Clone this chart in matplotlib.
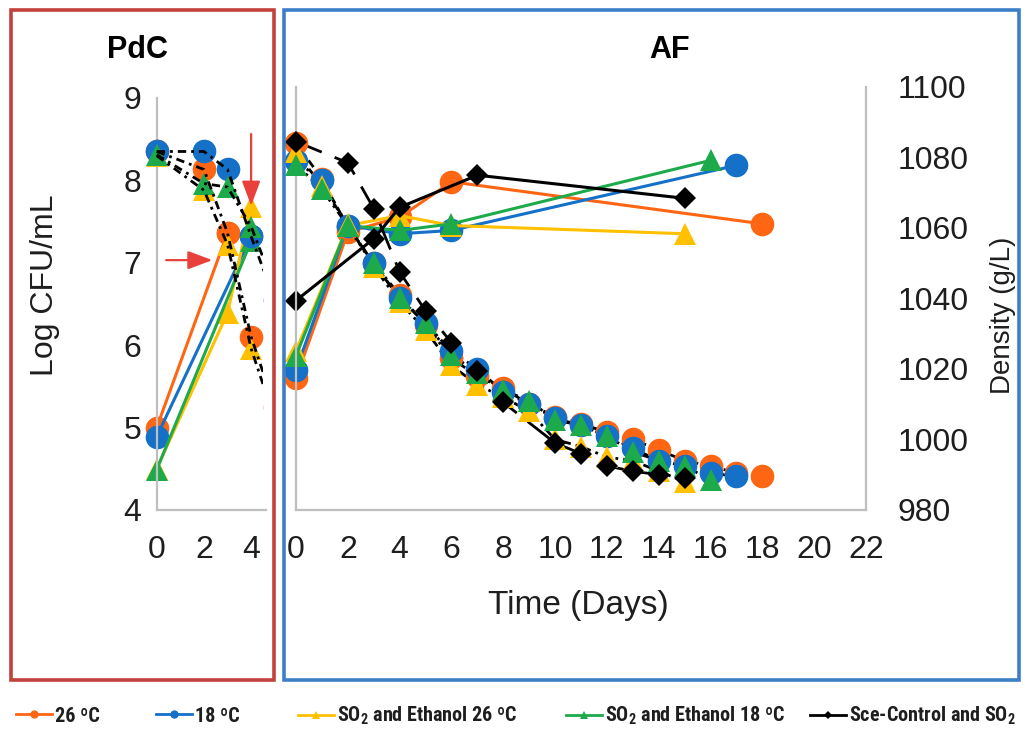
import matplotlib.pyplot as plt
from matplotlib import font_manager
from matplotlib.lines import Line2D
from matplotlib.patches import Rectangle

names = {f.name for f in font_manager.fontManager.ttflist}
narrow = next((n for n in ['Liberation Sans Narrow', 'Roboto Condensed', 'Arial Narrow',
                           'Open Sans Condensed'] if n in names), None)
leg_font = narrow or 'Liberation Sans'
leg_size = 14.5 if narrow else 11.5
plt.rcParams['font.family'] = ['Liberation Sans', 'DejaVu Sans']
plt.rcParams['mathtext.fontset'] = 'custom'
plt.rcParams['mathtext.rm'] = leg_font
plt.rcParams['mathtext.bf'] = leg_font + ':bold'

labels = ['26 ºC', '18 ºC', r'SO$_\mathbf{2}$ and Ethanol 26 ºC',
          r'SO$_\mathbf{2}$ and Ethanol 18 ºC', r'Sce-Control and SO$_\mathbf{2}$']
colors = ['#ff6614', '#1570c8', '#ffc000', '#1daa4b', '#000000']
markers = ['o', 'o', '^', '^', 'D']
msizes = {'o': 17, '^': 16, 'D': 11.5}

# PdC (pied de cuve) - yeast counts, log CFU/mL
pdc_cfu_days = [[0, 3], [0, 4], [0, 3, 4], [0, 4]]
pdc_cfu = [[5.00, 7.36], [4.89, 7.32], [4.50, 6.39, 7.68], [4.49, 7.26]]
# PdC - density, g/L
pdc_dens_days = [0, 2, 3, 4, 5]
pdc_dens = [[1081.7, 1076.6, 1058.6, 1029.1, 1009.2],
            [1081.7, 1081.7, 1076.6, 1057.6, 1039.6],
            [1080.5, 1070.7, 1055.3, 1025.8, 1005.7],
            [1080.8, 1072.6, 1071.6, 1060.4, 1043.1]]

# AF (alcoholic fermentation) - yeast counts, log CFU/mL
af_cfu_days = [[0, 2, 4, 6, 18], [0, 2, 4, 6, 17], [0, 2, 4, 6, 15],
               [0, 2, 4, 6, 16], [0, 3, 4, 7, 15]]
af_cfu = [[5.60, 7.37, 7.55, 7.98, 7.47],
          [5.70, 7.45, 7.35, 7.39, 8.18],
          [5.93, 7.45, 7.57, 7.45, 7.35],
          [5.87, 7.45, 7.39, 7.47, 8.24],
          [6.54, 7.29, 7.67, 8.06, 7.78]]
# AF - density, g/L
af_dens_days = [list(range(19)), list(range(18)), list(range(16)), list(range(17)),
                [0, 2, 3, 4, 5, 6, 7, 8, 10, 11, 12, 13, 14, 15]]
af_dens = [[1084, 1074, 1060, 1050, 1041, 1032.5, 1023, 1018, 1014.5, 1010, 1006.5,
            1004.5, 1002, 1000, 997, 994, 992.5, 990.5, 989.5],
           [1079, 1073.5, 1060.5, 1050, 1040, 1033, 1025, 1020, 1013.5, 1010, 1006,
            1004, 1001, 997.5, 994, 992.5, 990.5, 989.5],
           [1081.5, 1072, 1061, 1049, 1039, 1031, 1021, 1015.5, 1012, 1008, 1000,
            998, 995, 994, 991, 988],
           [1078, 1071, 1060.5, 1050, 1040, 1033, 1024, 1019, 1014, 1011, 1005.5,
            1004, 1001, 996.5, 994, 992.5, 988.5],
           [1084.5, 1078.5, 1065.5, 1047.5, 1036.5, 1027.5, 1019.5, 1010.5, 999,
            996, 992.5, 991, 990, 989]]

grey = '#bfbfbf'
txt = '#1e1e1e'
red = '#c2413b'
blue = '#3c7fc8'
tick_fs = 23

fig = plt.figure(figsize=(10.25, 7.34), dpi=100)

# panel frames
fig.add_artist(Rectangle((0.0105, 0.074), 0.2565, 0.9125, transform=fig.transFigure,
                         fill=False, edgecolor=red, lw=2.6))
fig.add_artist(Rectangle((0.2775, 0.074), 0.7165, 0.9125, transform=fig.transFigure,
                         fill=False, edgecolor=blue, lw=2.6))

# ---------- PdC ----------
ax1 = fig.add_axes([0.1529, 0.3052, 0.1066, 0.5763])
ax1.set_xlim(0, 4.63)
ax1.set_ylim(4, 9.13)
ax1d = ax1.twinx()
ax1d.set_ylim(980, 1100)
clip = Rectangle((0.05, 0.0), 0.2066, 1.0, transform=fig.transFigure)

drawn = []
for i in range(4):
    drawn += ax1d.plot(pdc_dens_days, pdc_dens[i], ls='none', marker=markers[i],
                       ms=msizes[markers[i]], color=colors[i], mew=0, zorder=2)
for i in range(4):
    drawn += ax1d.plot(pdc_dens_days, pdc_dens[i], color='k', lw=2.0,
                       ls=(0, (3, 1.8, 1, 1.8)), zorder=4)
for i in range(4):
    drawn += ax1.plot(pdc_cfu_days[i], pdc_cfu[i], color=colors[i], lw=2.2,
                      marker=markers[i], ms=msizes[markers[i]], mew=0)
for ln in drawn:
    ln.set_clip_path(clip)

for a in (ax1, ax1d):
    for s in a.spines.values():
        s.set_visible(False)
ax1.spines['left'].set_visible(True)
ax1.spines['bottom'].set_visible(True)
ax1.spines['left'].set_bounds(4, 9)
for s in ('left', 'bottom'):
    ax1.spines[s].set_color(grey)
    ax1.spines[s].set_linewidth(1.6)
ax1.set_yticks(range(4, 10))
ax1.set_xticks([0, 2, 4])
ax1d.set_yticks([])
ax1.tick_params(length=0, labelsize=tick_fs, labelcolor=txt)
ax1.tick_params(axis='y', pad=11)
ax1.tick_params(axis='x', pad=18)
ax1.patch.set_visible(False)

# red arrows
arw = dict(arrowstyle='-|>,head_length=0.75,head_width=0.28', color='#e8403a',
           lw=1.6, mutation_scale=20, shrinkA=0, shrinkB=0)
ax1.annotate('', xy=(2.36, 7.03), xytext=(0.4, 7.03), arrowprops=arw)
ax1.annotate('', xy=(4.0, 7.69), xytext=(4.0, 8.56), arrowprops=arw)

# ---------- AF ----------
ax2 = fig.add_axes([0.2888, 0.3052, 0.5561, 0.5763])
ax2.set_xlim(0, 22)
ax2.set_ylim(4, 9.13)
ax2d = ax2.twinx()
ax2d.set_ylim(980, 1100)

for i in range(5):
    dash = (0, (10, 5)) if i == 4 else (0, (3, 1.8, 1, 1.8))
    ax2d.plot(af_dens_days[i], af_dens[i], color='k', lw=2.0, ls=dash,
              clip_on=False, zorder=2)
for i in range(5):
    ax2d.plot(af_dens_days[i], af_dens[i], ls='none', marker=markers[i],
              ms=msizes[markers[i]], color=colors[i], mew=0, clip_on=False, zorder=3)
for i in range(5):
    ax2.plot(af_cfu_days[i], af_cfu[i], color=colors[i], lw=2.2, marker=markers[i],
             ms=msizes[markers[i]], mew=0, clip_on=False)

for a in (ax2, ax2d):
    for s in a.spines.values():
        s.set_visible(False)
for a, s in ((ax2, 'left'), (ax2, 'bottom'), (ax2d, 'right')):
    a.spines[s].set_visible(True)
    a.spines[s].set_color(grey)
    a.spines[s].set_linewidth(1.6)
ax2.set_yticks([])
ax2.set_xticks(range(0, 23, 2))
ax2d.set_yticks(range(980, 1101, 20))
ax2.tick_params(length=0, labelsize=tick_fs, labelcolor=txt, pad=18)
ax2d.tick_params(length=0, labelsize=tick_fs, labelcolor=txt, pad=23)
ax2.patch.set_visible(False)

# titles and axis labels
fig.text(0.1337, 0.9319, 'PdC', fontsize=22, fontweight='bold', ha='center', va='center')
fig.text(0.6537, 0.9319, 'AF', fontsize=22, fontweight='bold', ha='center', va='center')
fig.text(0.0439, 0.6117, 'Log CFU/mL', fontsize=23, rotation=90, ha='center',
         va='center', color=txt)
fig.text(0.9785, 0.5708, 'Density (g/L)', fontsize=20, rotation=90, ha='center',
         va='center', color=txt)
fig.text(0.5639, 0.1757, 'Time (Days)', fontsize=24, ha='center', va='center', color=txt)

# legend, one entry at a time along the bottom strip
leg_prop = font_manager.FontProperties(family=leg_font, weight='bold', size=leg_size)
leg_x = [16, 156, 298, 566, 810]
for i in range(5):
    h = Line2D([0], [0], color=colors[i], lw=2, marker=markers[i],
               ms=4 if markers[i] == 'D' else 6, mew=0)
    fig.legend([h], [labels[i]], loc='center left',
               bbox_to_anchor=(leg_x[i] / 1025, 0.0245), frameon=False,
               handlelength=1.8, handletextpad=0.15, borderpad=0, borderaxespad=0,
               prop=leg_prop, labelcolor=txt)

fig.savefig('out.png', dpi=100)
